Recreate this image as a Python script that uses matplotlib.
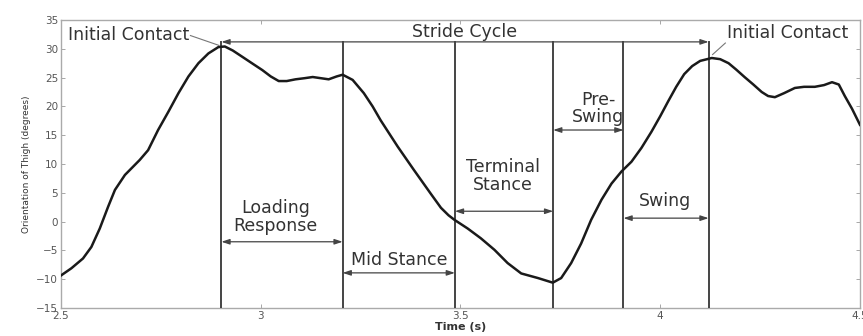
import numpy as np
import matplotlib
matplotlib.use("Agg")
import matplotlib.pyplot as plt

# thigh orientation
time_s = [2.501, 2.526, 2.555, 2.576, 2.597, 2.618, 2.635, 2.66, 2.697, 2.718, 2.743,
          2.769, 2.794, 2.819, 2.844, 2.869, 2.894, 2.91, 2.93, 2.954, 2.98, 3.004,
          3.025, 3.045, 3.065, 3.087, 3.11, 3.13, 3.15, 3.17, 3.19, 3.205, 3.23,
          3.258, 3.28, 3.30, 3.343, 3.383, 3.426, 3.451, 3.47, 3.485, 3.518, 3.551,
          3.585, 3.618, 3.652, 3.694, 3.731, 3.752, 3.777, 3.802, 3.827, 3.853,
          3.878, 3.903, 3.928, 3.953, 3.978, 4.0, 4.02, 4.04, 4.06, 4.08, 4.10,
          4.129, 4.15, 4.171, 4.19, 4.211, 4.233, 4.254, 4.27, 4.287, 4.31, 4.337,
          4.36, 4.387, 4.41, 4.43, 4.447, 4.462, 4.48, 4.50]
thigh_deg = [-9.3, -8.1, -6.4, -4.4, -1.2, 2.6, 5.5, 8.1, 10.7, 12.4, 15.9,
             19.1, 22.3, 25.2, 27.5, 29.2, 30.3, 30.4, 29.7, 28.6, 27.4, 26.3,
             25.2, 24.4, 24.4, 24.7, 24.9, 25.1, 24.9, 24.7, 25.2, 25.5, 24.6,
             22.3, 20.0, 17.6, 13.0, 9.0, 4.8, 2.4, 1.1, 0.3, -1.2, -2.9,
             -4.9, -7.2, -9.0, -9.8, -10.6, -9.8, -7.2, -3.8, 0.3, 3.8,
             6.6, 8.7, 10.4, 12.8, 15.6, 18.3, 20.9, 23.4, 25.6, 27.0, 27.9,
             28.4, 28.2, 27.5, 26.4, 25.1, 23.8, 22.5, 21.8, 21.6, 22.3, 23.2,
             23.4, 23.4, 23.7, 24.2, 23.8, 21.8, 19.6, 16.8]

# gait phase boundaries (s)
bounds = [2.9015, 3.205, 3.486, 3.732, 3.908, 4.121]
phase_names = ["Loading\nResponse", "Mid Stance", "Terminal\nStance", "Pre-\nSwing", "Swing"]
phase_arrow_y = [-3.5, -8.9, 1.8, 15.9, 0.6]
phase_label_xy = [(3.037, 0.8), (3.346, -6.7), (3.607, 7.9), (3.845, 19.6), (4.011, 3.6)]
stride_y = 31.2

xticks = [2.5, 3.0, 3.5, 4.0, 4.5]
xtick_labels = ["2.5", "3", "3.5", "4", "4.5"]
yticks = list(range(-15, 40, 5))

fig = plt.figure(figsize=(8.63, 3.36), dpi=100)
ax = fig.add_axes([0.0707, 0.0833, 0.9258, 0.8572])

line_col = "#444444"
text_col = "#333333"

ax.plot(time_s, thigh_deg, color="#1a1a1a", lw=1.8, zorder=4)

for b in bounds:
    ax.plot([b, b], [-15, stride_y], color=line_col, lw=1.4, zorder=3)

arrow_kw = dict(arrowstyle="<|-|>,head_length=0.6,head_width=0.2", color=line_col,
                lw=0.9, shrinkA=0, shrinkB=0, mutation_scale=8)

# stride cycle arrow
ax.annotate("", xy=(bounds[0], stride_y), xytext=(bounds[-1], stride_y), arrowprops=arrow_kw)
ax.text(3.509, 32.9, "Stride Cycle", ha="center", va="center", fontsize=12.5, color=text_col)

for i, name in enumerate(phase_names):
    ax.annotate("", xy=(bounds[i], phase_arrow_y[i]), xytext=(bounds[i + 1], phase_arrow_y[i]),
                arrowprops=arrow_kw)
    tx, ty = phase_label_xy[i]
    ax.text(tx, ty, name, ha="center", va="center", fontsize=12.5, color=text_col,
            linespacing=0.95)

# initial contact labels with leader lines
ax.text(2.518, 32.4, "Initial Contact", ha="left", va="center", fontsize=12.5, color=text_col)
ax.plot([2.824, 2.895], [32.3, 30.6], color="#777777", lw=0.8)
ax.text(4.168, 32.8, "Initial Contact", ha="left", va="center", fontsize=12.5, color=text_col)
ax.plot([4.163, 4.131], [31.0, 29.0], color="#777777", lw=0.8)

ax.set_xlim(2.5, 4.5)
ax.set_ylim(-15, 35)
ax.set_xticks(xticks)
ax.set_xticklabels(xtick_labels)
ax.set_yticks(yticks)
ax.tick_params(direction="in", length=3, width=0.6, colors="#999999", labelcolor="#555555",
               labelsize=7.5, top=True, right=True, pad=2)
for sp in ax.spines.values():
    sp.set_color("#aaaaaa")
    sp.set_linewidth(1.0)

ax.set_xlabel("Time (s)", fontsize=8, fontweight="bold", color="#333333", labelpad=1)
ax.set_ylabel("Orientation of Thigh (degrees)", fontsize=6.5, color="#333333", labelpad=4)

fig.savefig("out.png", dpi=100)
